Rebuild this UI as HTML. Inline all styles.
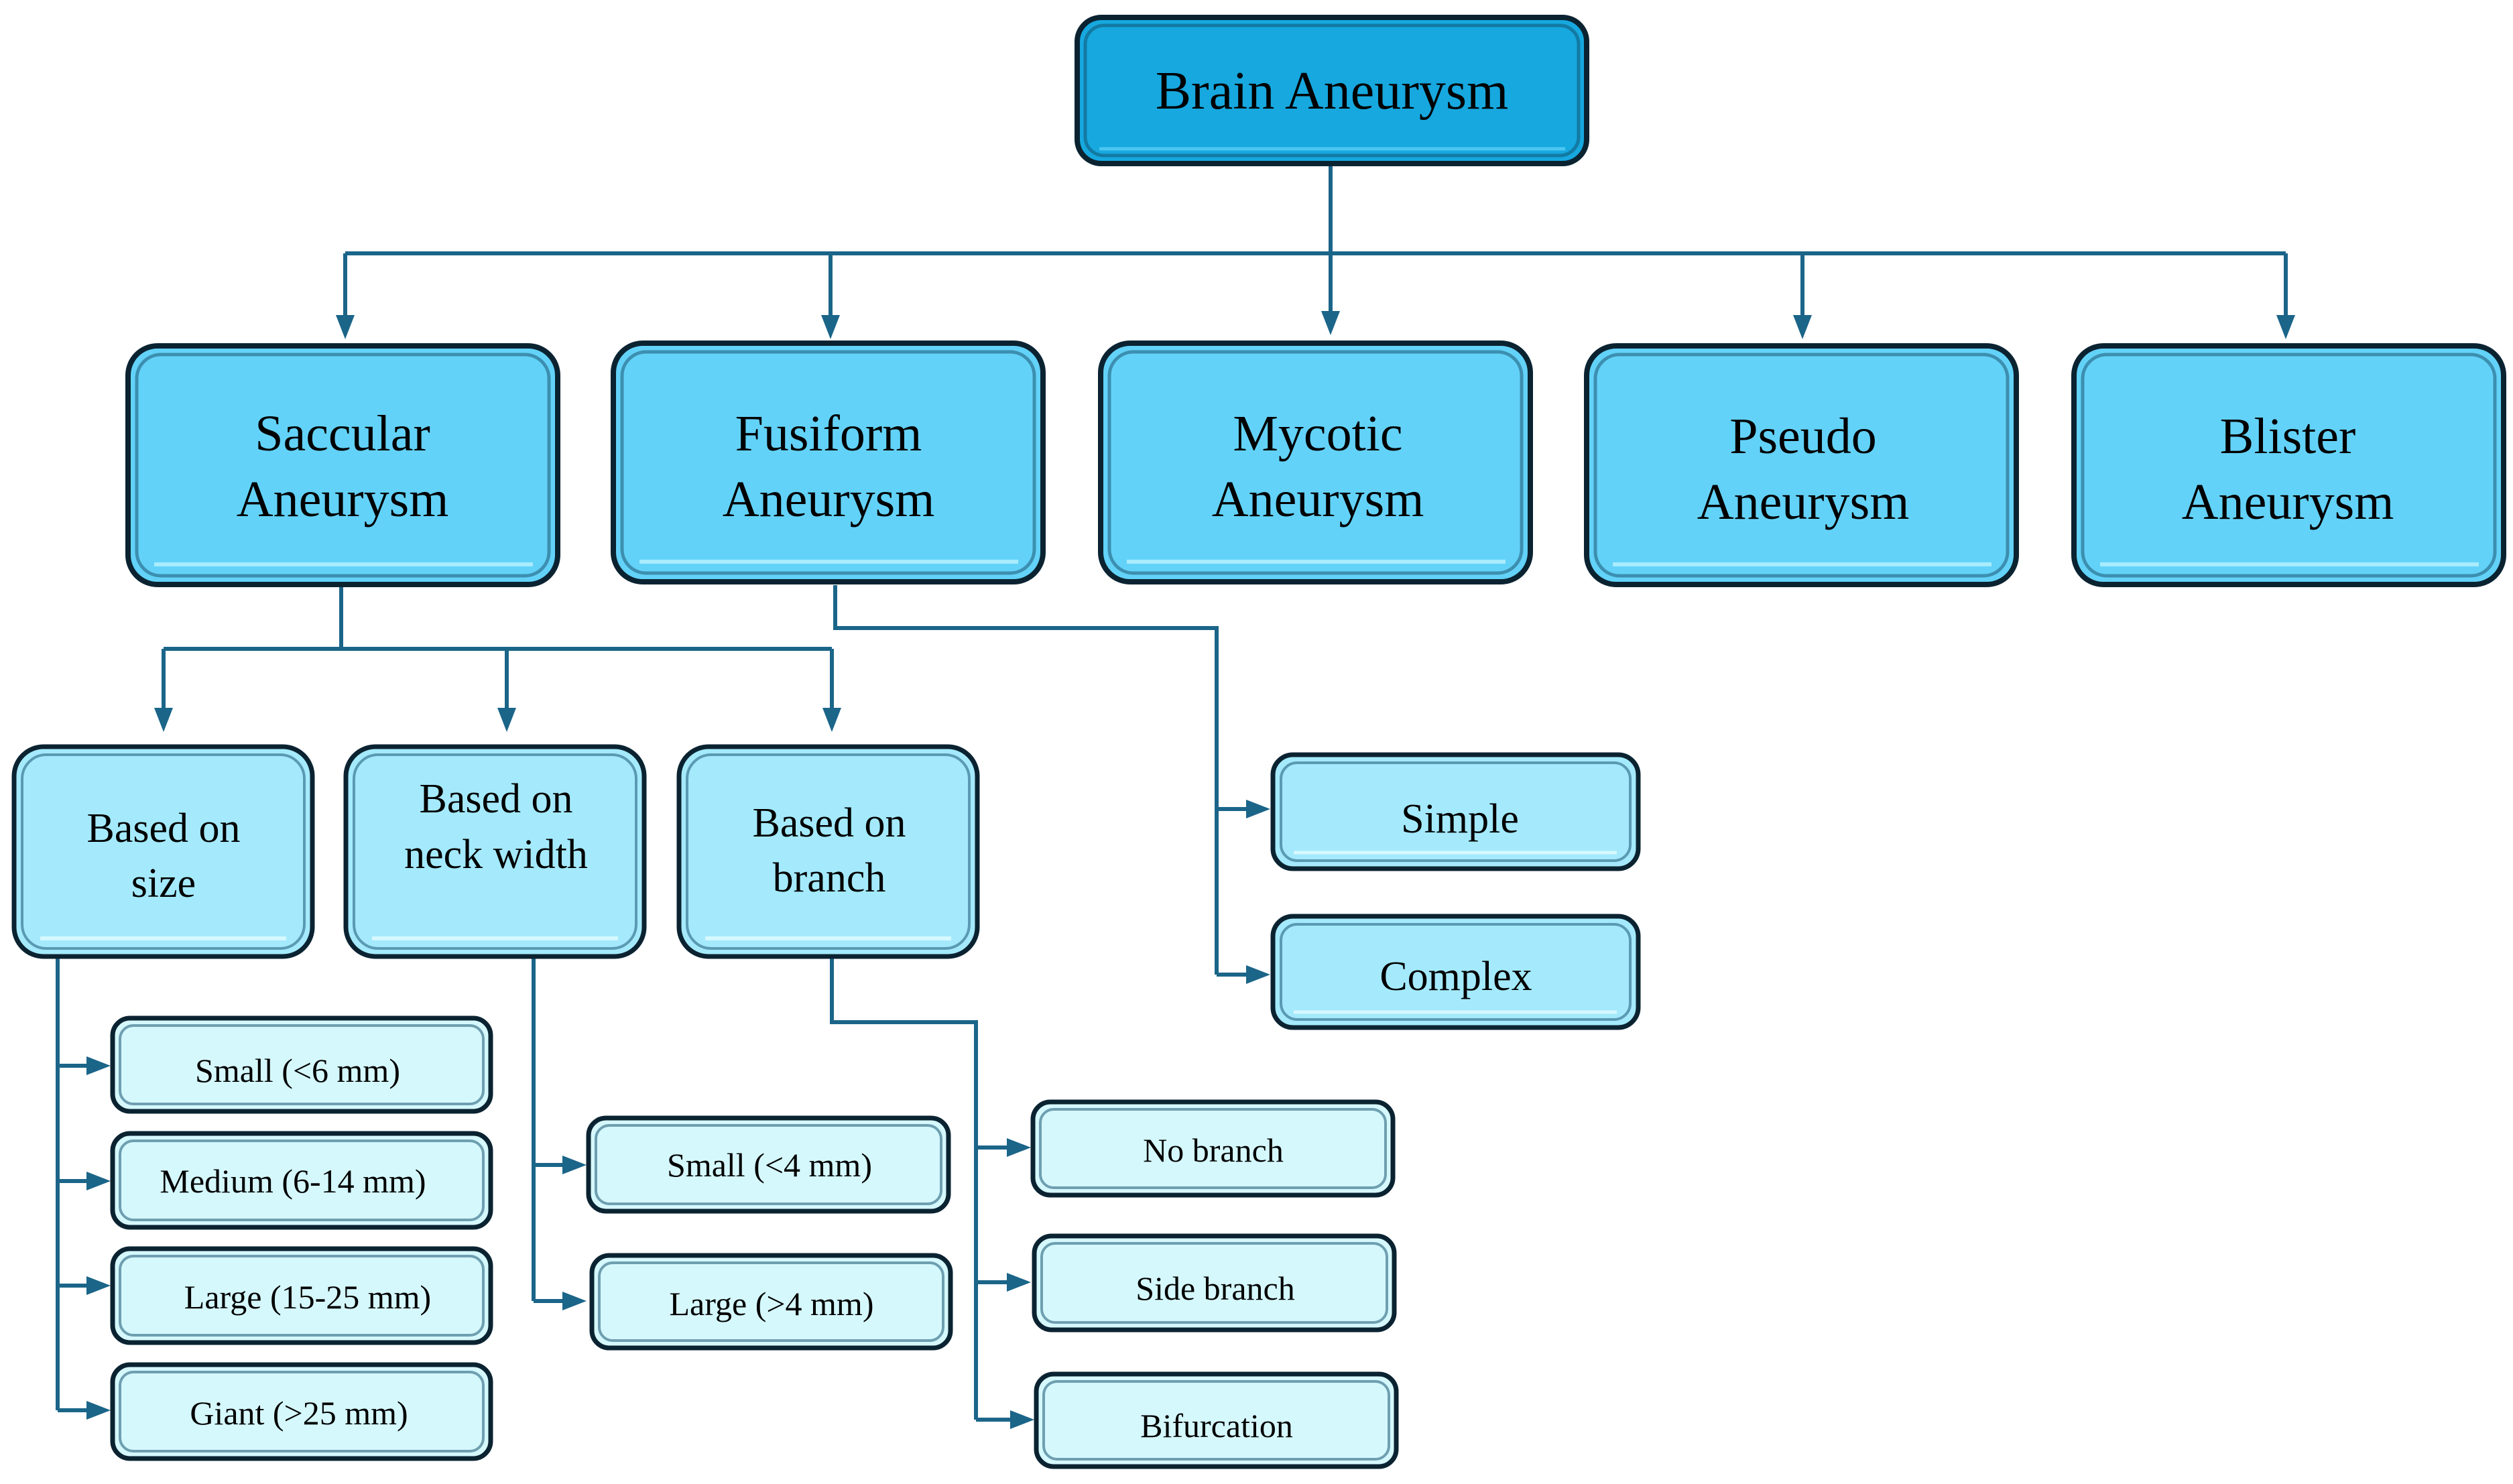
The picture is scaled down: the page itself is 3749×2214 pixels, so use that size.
<!DOCTYPE html>
<html><head><meta charset="utf-8"><style>
html,body{margin:0;padding:0;background:#fff;}
svg{display:block;}
svg text{font-family:"Liberation Serif","Times New Roman","DejaVu Serif",serif !important;fill:#000;text-anchor:middle;}
</style></head><body>
<svg width="3749" height="2214" viewBox="0 0 3749 2214" xmlns="http://www.w3.org/2000/svg" font-family="'Liberation Serif', 'DejaVu Serif', serif">
<g fill="none" stroke="#1b6589" stroke-width="6">
<path d="M1985 246 V470"/>
<path d="M515 378 H3410"/>
<path d="M515 378 V478 M1239 378 V478 M2689 378 V478 M3410 378 V478"/>
<path d="M509 873 V968 M244 968 H1241 M244 968 V1060 M756 968 V1060 M1241 968 V1060"/>
<path d="M1246 873 V937 H1815 V1454 M1815 1207 H1865 M1815 1454 H1865"/>
<path d="M86 1427 V2104 M86 1590 H135 M86 1762 H135 M86 1918 H135 M86 2104 H135"/>
<path d="M796 1427 V1941 M796 1738 H845 M796 1941 H845"/>
<path d="M1241 1427 V1525 H1456 V2118 M1456 1712 H1508 M1456 1913 H1508 M1456 2118 H1508"/>
</g>
<g fill="#1b6589">
<path d="M1985 500 l-14 -36 h28z"/>
<path d="M515 506 l-14 -36 h28z M1239 506 l-14 -36 h28z M2689 506 l-14 -36 h28z M3410 506 l-14 -36 h28z"/>
<path d="M244 1092 l-14 -36 h28z M756 1092 l-14 -36 h28z M1241 1092 l-14 -36 h28z"/>
<path d="M1895 1207 l-36 -14 v28z M1895 1454 l-36 -14 v28z"/>
<path d="M165 1590 l-36 -14 v28z M165 1762 l-36 -14 v28z M165 1918 l-36 -14 v28z M165 2104 l-36 -14 v28z"/>
<path d="M875 1738 l-36 -14 v28z M875 1941 l-36 -14 v28z"/>
<path d="M1538 1712 l-36 -14 v28z M1538 1913 l-36 -14 v28z M1543 2118 l-36 -14 v28z"/>
</g>

<rect x="1607" y="26" width="760" height="218" rx="36" fill="#16a8df" stroke="#0b2331" stroke-width="8"/>
<rect x="1619" y="38" width="736" height="194" rx="28" fill="none" stroke="#137aa3" stroke-width="5"/>
<path d="M1640 222 H2335" stroke="#4cc6f0" stroke-width="5"/>
<text x="1987" y="162" font-size="80">Brain Aneurysm</text>

<g>
<rect x="191" y="516" width="641" height="356" rx="44" fill="#63d2f8" stroke="#0b2331" stroke-width="8"/>
<rect x="204" y="529" width="615" height="330" rx="36" fill="none" stroke="#3c8fb0" stroke-width="5"/>
<path d="M230 842 H795" stroke="#a8ecfd" stroke-width="6"/>
<text x="511" y="672" font-size="76">Saccular</text><text x="511" y="770" font-size="76">Aneurysm</text>

<rect x="915" y="512" width="641" height="356" rx="44" fill="#63d2f8" stroke="#0b2331" stroke-width="8"/>
<rect x="928" y="525" width="615" height="330" rx="36" fill="none" stroke="#3c8fb0" stroke-width="5"/>
<path d="M954 838 H1519" stroke="#a8ecfd" stroke-width="6"/>
<text x="1236" y="672" font-size="76">Fusiform</text><text x="1236" y="770" font-size="76">Aneurysm</text>

<rect x="1642" y="512" width="641" height="356" rx="44" fill="#63d2f8" stroke="#0b2331" stroke-width="8"/>
<rect x="1655" y="525" width="615" height="330" rx="36" fill="none" stroke="#3c8fb0" stroke-width="5"/>
<path d="M1681 838 H2246" stroke="#a8ecfd" stroke-width="6"/>
<text x="1966" y="672" font-size="76">Mycotic</text><text x="1966" y="770" font-size="76">Aneurysm</text>

<rect x="2367" y="516" width="641" height="356" rx="44" fill="#63d2f8" stroke="#0b2331" stroke-width="8"/>
<rect x="2380" y="529" width="615" height="330" rx="36" fill="none" stroke="#3c8fb0" stroke-width="5"/>
<path d="M2406 842 H2971" stroke="#a8ecfd" stroke-width="6"/>
<text x="2690" y="676" font-size="76">Pseudo</text><text x="2690" y="774" font-size="76">Aneurysm</text>

<rect x="3094" y="516" width="641" height="356" rx="44" fill="#63d2f8" stroke="#0b2331" stroke-width="8"/>
<rect x="3107" y="529" width="615" height="330" rx="36" fill="none" stroke="#3c8fb0" stroke-width="5"/>
<path d="M3133 842 H3698" stroke="#a8ecfd" stroke-width="6"/>
<text x="3413" y="676" font-size="76">Blister</text><text x="3413" y="774" font-size="76">Aneurysm</text>
</g>

<g>
<rect x="21" y="1114" width="445" height="313" rx="44" fill="#a4eafc" stroke="#0b2331" stroke-width="7"/>
<rect x="33" y="1126" width="421" height="289" rx="36" fill="none" stroke="#5a9ab2" stroke-width="4"/>
<path d="M60 1400 H427" stroke="#d6f8ff" stroke-width="6"/>
<text x="244" y="1256" font-size="62">Based on</text><text x="244" y="1338" font-size="62">size</text>

<rect x="516" y="1114" width="445" height="313" rx="44" fill="#a4eafc" stroke="#0b2331" stroke-width="7"/>
<rect x="528" y="1126" width="421" height="289" rx="36" fill="none" stroke="#5a9ab2" stroke-width="4"/>
<path d="M555 1400 H922" stroke="#d6f8ff" stroke-width="6"/>
<text x="740" y="1212" font-size="62">Based on</text><text x="740" y="1295" font-size="62">neck width</text>

<rect x="1013" y="1114" width="445" height="313" rx="44" fill="#a4eafc" stroke="#0b2331" stroke-width="7"/>
<rect x="1025" y="1126" width="421" height="289" rx="36" fill="none" stroke="#5a9ab2" stroke-width="4"/>
<path d="M1052 1400 H1419" stroke="#d6f8ff" stroke-width="6"/>
<text x="1237" y="1248" font-size="62">Based on</text><text x="1237" y="1330" font-size="62">branch</text>

<rect x="1899" y="1126" width="545" height="170" rx="30" fill="#a4eafc" stroke="#0b2331" stroke-width="7"/>
<rect x="1911" y="1138" width="521" height="146" rx="24" fill="none" stroke="#5a9ab2" stroke-width="4"/>
<path d="M1930 1272 H2412" stroke="#d6f8ff" stroke-width="5"/>
<text x="2178" y="1242" font-size="62">Simple</text>

<rect x="1899" y="1367" width="545" height="166" rx="30" fill="#a4eafc" stroke="#0b2331" stroke-width="7"/>
<rect x="1911" y="1379" width="521" height="142" rx="24" fill="none" stroke="#5a9ab2" stroke-width="4"/>
<path d="M1930 1510 H2412" stroke="#d6f8ff" stroke-width="5"/>
<text x="2172" y="1477" font-size="62">Complex</text>
</g>

<g>
<rect x="168" y="1519" width="564" height="139" rx="26" fill="#d5f8fd" stroke="#0b2331" stroke-width="7"/>
<rect x="179" y="1530" width="542" height="117" rx="20" fill="none" stroke="#6e9fb0" stroke-width="4"/>
<text x="444" y="1614" font-size="50">Small (&lt;6 mm)</text>

<rect x="168" y="1691" width="564" height="140" rx="26" fill="#d5f8fd" stroke="#0b2331" stroke-width="7"/>
<rect x="179" y="1702" width="542" height="118" rx="20" fill="none" stroke="#6e9fb0" stroke-width="4"/>
<text x="437" y="1779" font-size="50">Medium (6-14 mm)</text>

<rect x="168" y="1863" width="564" height="140" rx="26" fill="#d5f8fd" stroke="#0b2331" stroke-width="7"/>
<rect x="179" y="1874" width="542" height="118" rx="20" fill="none" stroke="#6e9fb0" stroke-width="4"/>
<text x="459" y="1952" font-size="50">Large (15-25 mm)</text>

<rect x="168" y="2036" width="564" height="140" rx="26" fill="#d5f8fd" stroke="#0b2331" stroke-width="7"/>
<rect x="179" y="2047" width="542" height="118" rx="20" fill="none" stroke="#6e9fb0" stroke-width="4"/>
<text x="446" y="2125" font-size="50">Giant (&gt;25 mm)</text>

<rect x="878" y="1668" width="537" height="139" rx="26" fill="#d5f8fd" stroke="#0b2331" stroke-width="7"/>
<rect x="889" y="1679" width="515" height="117" rx="20" fill="none" stroke="#6e9fb0" stroke-width="4"/>
<text x="1148" y="1755" font-size="50">Small (&lt;4 mm)</text>

<rect x="883" y="1873" width="535" height="138" rx="26" fill="#d5f8fd" stroke="#0b2331" stroke-width="7"/>
<rect x="894" y="1884" width="513" height="116" rx="20" fill="none" stroke="#6e9fb0" stroke-width="4"/>
<text x="1151" y="1962" font-size="50">Large (&gt;4 mm)</text>

<rect x="1541" y="1644" width="537" height="139" rx="26" fill="#d5f8fd" stroke="#0b2331" stroke-width="7"/>
<rect x="1552" y="1655" width="515" height="117" rx="20" fill="none" stroke="#6e9fb0" stroke-width="4"/>
<text x="1810" y="1733" font-size="50">No branch</text>

<rect x="1543" y="1844" width="537" height="140" rx="26" fill="#d5f8fd" stroke="#0b2331" stroke-width="7"/>
<rect x="1554" y="1855" width="515" height="118" rx="20" fill="none" stroke="#6e9fb0" stroke-width="4"/>
<text x="1813" y="1939" font-size="50">Side branch</text>

<rect x="1546" y="2050" width="537" height="138" rx="26" fill="#d5f8fd" stroke="#0b2331" stroke-width="7"/>
<rect x="1557" y="2061" width="515" height="116" rx="20" fill="none" stroke="#6e9fb0" stroke-width="4"/>
<text x="1815" y="2144" font-size="50">Bifurcation</text>
</g>
</svg>
</body></html>
